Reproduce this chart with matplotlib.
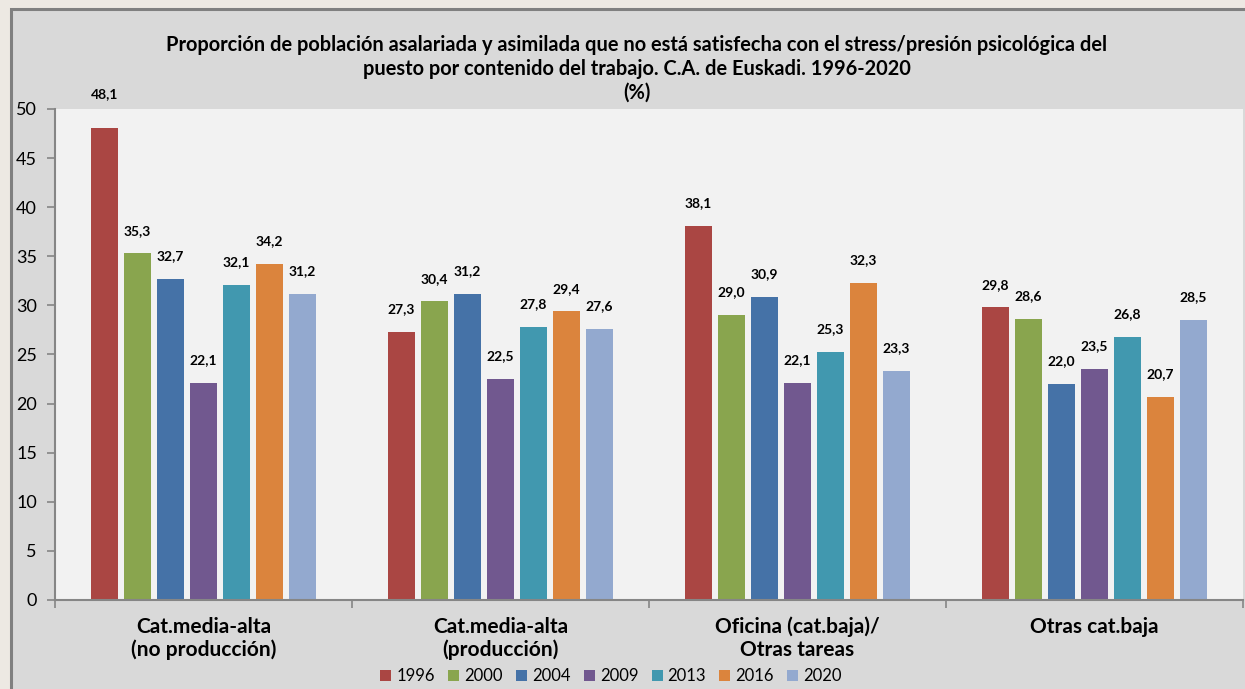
import numpy as np
import matplotlib
matplotlib.use("Agg")
import matplotlib.pyplot as plt
from matplotlib.patches import Rectangle, Patch

plt.rcParams["font.family"] = ["Lato", "DejaVu Sans"]

categories = ["Cat.media-alta\n(no producción)", "Cat.media-alta\n(producción)",
              "Oficina (cat.baja)/\nOtras tareas", "Otras cat.baja"]
years = ["1996", "2000", "2004", "2009", "2013", "2016", "2020"]
v1996 = [48.1, 27.3, 38.1, 29.8]
v2000 = [35.3, 30.4, 29.0, 28.6]
v2004 = [32.7, 31.2, 30.9, 22.0]
v2009 = [22.1, 22.5, 22.1, 23.5]
v2013 = [32.1, 27.8, 25.3, 26.8]
v2016 = [34.2, 29.4, 32.3, 20.7]
v2020 = [31.2, 27.6, 23.3, 28.5]
series = [v1996, v2000, v2004, v2009, v2013, v2016, v2020]
colors = ["#AA4643", "#89A54E", "#4572A7", "#71588F", "#4198AF", "#DB843D", "#93A9CF"]

title = ("Proporción de población asalariada y asimilada que no está satisfecha con el stress/presión psicológica del\n"
         "puesto por contenido del trabajo. C.A. de Euskadi. 1996-2020\n(%)")

W, H = 1245, 689
fig = plt.figure(figsize=(W / 100, H / 100), dpi=100, facecolor="#EDE9E3")

# chart area (grey box with dark border)
fig.patches.append(Rectangle((11 / W, -0.01), 1.0, 1 - 9 / H + 0.01, transform=fig.transFigure,
                             facecolor="#D9D9D9", edgecolor="#808080", linewidth=2.2, zorder=-5))

ax = fig.add_axes([55 / W, (H - 600) / H, 1188 / W, 491 / H])
ax.set_facecolor("#F2F2F2")

x = np.arange(len(categories))
slot = 1 / 9
for i, (vals, col, yr) in enumerate(zip(series, colors, years)):
    pos = x + (i - 3) * slot
    ax.bar(pos, vals, width=slot * 0.8, color=col, label=yr, zorder=2)
    for px, v in zip(pos, vals):
        # the top label sits higher, just under the plot-area edge, as in the original
        dy = 20 if v > 45 else 12
        ax.annotate(f"{v:.1f}".replace(".", ","), (px, v), xytext=(0, dy), textcoords="offset points",
                    ha="center", va="bottom", fontsize=10, fontweight="bold", color="#000000",
                    annotation_clip=False)

ax.set_xlim(-0.5, len(categories) - 0.5)
ax.set_ylim(0, 50)
ax.set_yticks(range(0, 51, 5))
ax.tick_params(axis="y", labelsize=13, length=6, width=1.2, color="#868686", pad=7)
ax.set_xticks(x)
ax.set_xticklabels(categories, fontsize=15, fontweight="bold", linespacing=1.15)
ax.set_xticks(np.arange(-0.5, len(categories)), minor=True)
ax.tick_params(axis="x", which="major", length=0, pad=12)
ax.tick_params(axis="x", which="minor", length=6, width=1.2, color="#868686")
for s in ["top", "right"]:
    ax.spines[s].set_visible(False)
for s in ["left", "bottom"]:
    ax.spines[s].set_color("#868686")
    ax.spines[s].set_linewidth(1.5)

fig.text(0.5 * (55 + 1243) / W - 0.01, 1 - 35 / H, title, ha="center", va="top", fontsize=14.4,
         fontweight="bold", linespacing=1.25)

handles = [Patch(facecolor=c) for c in colors]
fig.legend(handles, years, loc="center", bbox_to_anchor=(611 / W, 1 - 676 / H),
           ncol=7, frameon=False, fontsize=12, handlelength=0.66, handleheight=0.66,
           handletextpad=0.3, columnspacing=0.8)

fig.savefig("out.png", dpi=100, facecolor=fig.get_facecolor())
